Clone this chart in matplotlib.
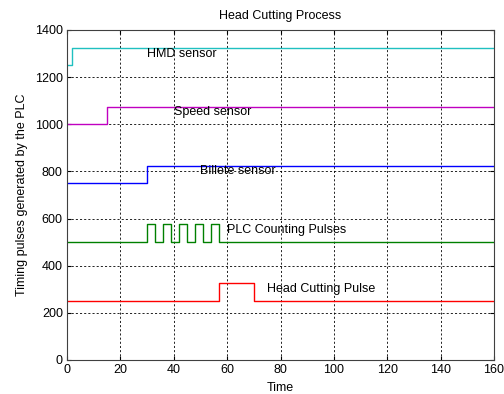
import numpy as np
import matplotlib.pyplot as plt

plt.rcParams['font.family'] = ['Liberation Sans', 'DejaVu Sans']

# step signals: (time, level) change points, drawn with drawstyle steps-post
hmd_t = [0, 2, 160]
hmd_y = [1250, 1325, 1325]

speed_t = [0, 15, 160]
speed_y = [1000, 1075, 1075]

billete_t = [0, 30, 160]
billete_y = [750, 825, 825]

plc_t = [0, 30, 33, 36, 39, 42, 45, 48, 51, 54, 57, 160]
plc_y = [500, 575, 500, 575, 500, 575, 500, 575, 500, 575, 500, 500]

cut_t = [0, 57, 70, 160]
cut_y = [250, 325, 250, 250]

labels = ["HMD sensor", "Speed sensor", "Billete sensor", "PLC Counting Pulses", "Head Cutting Pulse"]
label_x = [30, 40, 50, 60, 75]
label_y = [1300, 1050, 800, 550, 300]

colors = ["#20c0c0", "#c000c0", "#0000ff", "#008000", "#ff0000"]

fig = plt.figure(figsize=(5.04, 3.94), dpi=100)
ax = fig.add_axes([67/504, 34/394, 427/504, 330/394])

series = [(hmd_t, hmd_y), (speed_t, speed_y), (billete_t, billete_y), (plc_t, plc_y), (cut_t, cut_y)]
for (t, y), c in zip(series, colors):
    ax.plot(t, y, drawstyle='steps-post', color=c, lw=1)

for txt, x, y in zip(labels, label_x, label_y):
    ax.text(x, y, txt, fontsize=9, ha='left', va='center')

ax.set_xlim(0, 160)
ax.set_ylim(0, 1400)
ax.set_xticks(np.arange(0, 161, 20))
ax.set_yticks(np.arange(0, 1401, 200))
ax.grid(True, color='black', linestyle=(0, (2.5, 2.5)), linewidth=0.6)
ax.tick_params(direction='in', labelsize=9, top=True, right=True, length=3, pad=3)
for s in ax.spines.values():
    s.set_color('#404040')

ax.set_title("Head Cutting Process", fontsize=9, pad=8)
ax.set_xlabel("Time", fontsize=9, labelpad=4)
ax.set_ylabel("Timing pulses generated by the PLC", fontsize=9, labelpad=5)

fig.savefig("out.png", dpi=100)
